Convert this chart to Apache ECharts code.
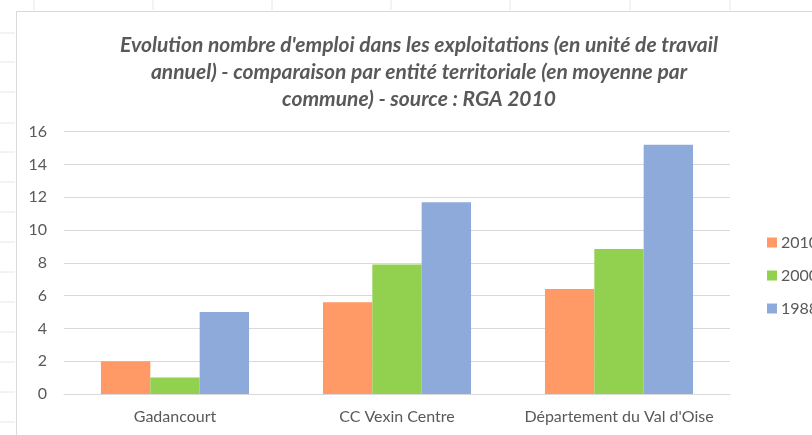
<!DOCTYPE html>
<html>
<head>
<meta charset="utf-8">
<script src="https://cdn.jsdelivr.net/npm/echarts@6/dist/echarts.min.js"></script>
<style>
html,body{margin:0;padding:0;background:#fff;}
#chart{width:812px;height:435px;}
</style>
</head>
<body>
<div id="chart"></div>
<script>
// Emplois agricoles (UTA) par entité territoriale
var categories = ['Gadancourt', 'CC Vexin Centre', "Département du Val d'Oise"];
var seriesNames = ['2010', '2000', '1988'];
var values2010 = [2, 5.6, 6.4];
var values2000 = [1, 7.9, 8.85];
var values1988 = [5, 11.7, 15.2];
var colors = ['#ff9966', '#92d050', '#8eaadb'];
var yTicks = { min: 0, max: 16, interval: 2 };
var titleLines = [
  "Evolution nombre d'emploi dans les exploitations (en unité de travail",
  "annuel) - comparaison par entité territoriale (en moyenne par",
  "commune) - source : RGA 2010"
];

var FONT = 'Lato, "Open Sans", sans-serif';
var chart = echarts.init(document.getElementById('chart'), null, { renderer: 'canvas' });

// sheet grid lines around the chart frame
var sheetLines = [];
[34, 153, 272, 391, 510, 630, 730].forEach(function (x) {
  sheetLines.push({ type: 'line', shape: { x1: x, y1: 0, x2: x, y2: 10 }, style: { stroke: '#e6e6e6', lineWidth: 1 }, silent: true });
});
[33, 62, 92, 123, 152, 182, 212, 242, 272, 302, 332, 362, 392, 422].forEach(function (y) {
  sheetLines.push({ type: 'line', shape: { x1: 0, y1: y, x2: 15, y2: y }, style: { stroke: '#e6e6e6', lineWidth: 1 }, silent: true });
});

var seriesData = [values2010, values2000, values1988];

chart.setOption({
  backgroundColor: '#ffffff',
  animation: false,
  graphic: sheetLines.concat([
    { type: 'rect', shape: { x: 16.5, y: 11.5, width: 820, height: 440 }, style: { fill: '#ffffff', stroke: '#d9d9d9', lineWidth: 1 }, z: -1, silent: true },
    {
      type: 'text', x: 419, y: 32,
      style: {
        text: titleLines.join('\n'),
        textAlign: 'center', textVerticalAlign: 'top',
        font: 'italic bold 21px ' + FONT,
        lineHeight: 27,
        fill: '#595959'
      }
    }
  ]),
  color: colors,
  legend: {
    orient: 'vertical',
    left: 762,
    top: 229,
    itemWidth: 10,
    itemHeight: 10,
    itemGap: 16,
    icon: 'rect',
    data: seriesNames,
    textStyle: { fontFamily: FONT, fontSize: 16, color: '#595959', lineHeight: 17, padding: [0, 0, 0, -1] }
  },
  grid: { left: 64, right: 82, top: 131.7, bottom: 41, containLabel: false },
  xAxis: {
    type: 'category',
    data: categories,
    axisLine: { lineStyle: { color: '#d9d9d9', width: 1 } },
    axisTick: { show: false },
    axisLabel: { interval: 0, hideOverlap: false, fontFamily: FONT, fontSize: 16, color: '#595959', margin: 15 }
  },
  yAxis: {
    type: 'value',
    min: yTicks.min, max: yTicks.max, interval: yTicks.interval,
    axisLine: { show: false },
    axisTick: { show: false },
    splitLine: { lineStyle: { color: '#d9d9d9', width: 1 } },
    axisLabel: { fontFamily: FONT, fontSize: 16, color: '#595959', margin: 17 }
  },
  series: seriesNames.map(function (name, i) {
    return {
      name: name,
      type: 'bar',
      data: seriesData[i],
      barGap: '0%',
      barCategoryGap: '33.3%',
      itemStyle: { color: colors[i] }
    };
  })
});
</script>
</body>
</html>
